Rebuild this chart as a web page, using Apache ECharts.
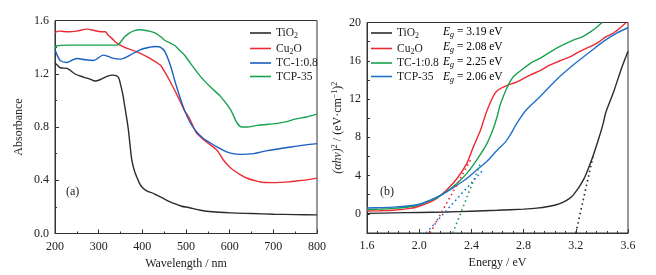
<!DOCTYPE html>
<html>
<head>
<meta charset="utf-8">
<script src="https://cdn.jsdelivr.net/npm/echarts@6/dist/echarts.min.js"></script>
<style>
html,body{margin:0;padding:0;background:#fff;}
#c{width:656px;height:275px;}
</style>
</head>
<body>
<div id="c"></div>
<script>
// ---------- Panel (a): absorbance vs wavelength ----------
var tio2A = [[200,1.28],[205,1.265],[212,1.245],[228,1.24],[245,1.2],[265,1.175],[280,1.16],[292,1.145],[303,1.155],[319,1.18],[333,1.19],[345,1.175],[350,1.12],[355,1.05],[358,0.99],[361,0.93],[365,0.85],[368,0.78],[372,0.66],[376,0.55],[382,0.47],[387,0.426],[393,0.38],[399,0.35],[410,0.32],[426,0.30],[450,0.26],[472,0.226],[490,0.205],[506,0.195],[533,0.175],[560,0.163],[602,0.155],[650,0.15],[701,0.145],[750,0.142],[800,0.14]];
var cu2oA = [[200,1.51],[210,1.52],[230,1.515],[250,1.52],[273,1.535],[290,1.525],[305,1.515],[315,1.515],[322,1.49],[332,1.46],[342,1.43],[355,1.405],[365,1.39],[388,1.365],[418,1.315],[441,1.265],[452,1.21],[464,1.14],[475,1.07],[487,0.99],[497,0.92],[506,0.877],[517,0.80],[525,0.75],[548,0.685],[571,0.626],[586,0.55],[600,0.5],[609,0.475],[625,0.44],[640,0.415],[660,0.395],[680,0.383],[700,0.382],[716,0.384],[735,0.388],[755,0.395],[780,0.405],[800,0.416]];
var tcA = [[200,1.38],[205,1.34],[212,1.30],[227,1.285],[250,1.315],[270,1.305],[288,1.30],[311,1.34],[322,1.33],[334,1.315],[349,1.31],[360,1.32],[372,1.34],[395,1.38],[418,1.40],[430,1.405],[441,1.40],[452,1.365],[464,1.265],[475,1.14],[487,1.015],[498,0.914],[510,0.83],[525,0.76],[540,0.714],[556,0.68],[571,0.651],[586,0.625],[602,0.604],[625,0.594],[655,0.60],[686,0.623],[710,0.635],[732,0.646],[770,0.664],[800,0.675]];
var tcpA = [[200,1.39],[204,1.41],[230,1.415],[260,1.415],[300,1.415],[342,1.415],[353,1.45],[360,1.48],[368,1.50],[380,1.522],[395,1.53],[418,1.518],[433,1.50],[445,1.47],[452,1.45],[464,1.43],[475,1.41],[487,1.37],[494,1.35],[510,1.28],[533,1.18],[556,1.10],[579,1.03],[602,0.93],[617,0.83],[628,0.80],[640,0.80],[663,0.812],[709,0.827],[730,0.84],[747,0.857],[775,0.875],[800,0.897]];

// ---------- Panel (b): Tauc plot ----------
var tio2B = [[1.6,0.05],[1.8,0.1],[2.0,0.15],[2.2,0.2],[2.4,0.28],[2.6,0.38],[2.8,0.5],[2.9,0.6],[3.0,0.8],[3.05,0.95],[3.10,1.2],[3.15,1.6],[3.18,1.96],[3.21,2.5],[3.23,2.9],[3.26,3.6],[3.28,4.2],[3.33,5.97],[3.38,8.06],[3.41,9.46],[3.43,10.6],[3.49,12.76],[3.55,15.2],[3.60,17.0]];
var cu2oB = [[1.6,0.3],[1.7,0.33],[1.8,0.38],[1.93,0.57],[2.0,0.8],[2.06,1.1],[2.135,1.62],[2.21,2.49],[2.29,3.7],[2.365,5.28],[2.415,7.0],[2.47,8.76],[2.49,9.6],[2.52,10.8],[2.55,11.8],[2.58,12.6],[2.61,13.0],[2.67,13.4],[2.75,13.8],[2.85,14.5],[2.93,15.0],[3.0,15.55],[3.08,16.0],[3.155,16.4],[3.22,16.9],[3.28,17.3],[3.33,17.6],[3.38,18.0],[3.43,18.5],[3.49,18.9],[3.55,19.55],[3.585,20.0]];
var tcB = [[1.6,0.45],[1.7,0.5],[1.8,0.57],[1.93,0.74],[2.0,0.95],[2.06,1.26],[2.135,1.68],[2.21,2.31],[2.29,3.19],[2.365,4.23],[2.44,5.62],[2.52,7.37],[2.57,9.0],[2.6,10.3],[2.62,11.37],[2.67,13.1],[2.72,14.3],[2.80,15.2],[2.86,15.8],[2.925,16.25],[3.05,17.3],[3.18,18.16],[3.25,18.5],[3.31,19.0],[3.36,19.5],[3.40,20.0]];
var tcpB = [[1.6,0.62],[1.7,0.65],[1.8,0.7],[1.93,0.85],[2.0,1.0],[2.06,1.3],[2.135,1.75],[2.21,2.3],[2.29,3.0],[2.365,3.7],[2.44,4.58],[2.52,5.5],[2.56,6.1],[2.61,6.84],[2.66,7.5],[2.70,8.3],[2.75,9.5],[2.82,10.85],[2.925,12.24],[3.05,14.0],[3.18,15.55],[3.31,16.94],[3.41,18.0],[3.51,18.86],[3.6,19.45]];
// tangent (extrapolation) lines
var tanTiO2 = [[3.20,-2],[3.335,6.2]];
var tanCu2O = [[2.084,-2],[2.40,5.8]];
var tanTC = [[2.257,-2],[2.47,5.3]];
var tanTCP = [[2.053,-2],[2.49,4.6]];

var seriesNames = ['TiO2','Cu2O','TC-1:0.8','TCP-35'];
var egLabels = ['3.19','2.08','2.25','2.06'];
var xTicksA = [200,300,400,500,600,700,800];
var yTicksA = [0.0,0.4,0.8,1.2,1.6];
var xTicksB = [1.6,2.0,2.4,2.8,3.2,3.6];
var yTicksB = [0,4,8,12,16,20];

var FONT = '"Liberation Serif", "DejaVu Serif", serif';
var TXT = '#222';
var cBlack = '#2b2b2b', cRed = '#ec2a33', cBlue = '#1a5fc0', cGreen = '#1aa150';
var cGreenB = '#19a34c', cBlueB = '#1f72cc';

var richNames = {
  'TiO2': '{n|TiO}{s|2}',
  'Cu2O': '{n|Cu}{s|2}{n|O}',
  'TC-1:0.8': '{n|TC-1:0.8}',
  'TCP-35': '{n|TCP-35}'
};
var rich = {
  n: {fontFamily: FONT, fontSize: 11.5, color: TXT, lineHeight: 14},
  s: {fontFamily: FONT, fontSize: 8, color: TXT, verticalAlign: 'bottom', lineHeight: 14, padding: [6,0,0,0]}
};

function axisCommon(extra){
  var o = {
    axisLine: {show: true, onZero: false, lineStyle: {color: '#333', width: 1}},
    axisTick: {show: true, inside: true, length: 4, lineStyle: {color: '#333'}},
    minorTick: {show: true, splitNumber: 2, length: 2, lineStyle: {color: '#333'}},
    splitLine: {show: false},
    axisLabel: {fontFamily: FONT, fontSize: 12, color: TXT},
    nameTextStyle: {fontFamily: FONT, fontSize: 12, color: TXT}
  };
  for (var k in extra) o[k] = extra[k];
  return o;
}

function line(name, data, color, xi, dotted){
  return {
    name: name, type: 'line', data: data, xAxisIndex: xi, yAxisIndex: xi,
    symbol: 'none', showSymbol: false, smooth: dotted ? false : 0.3, silent: true, animation: false,
    clip: true,
    lineStyle: {color: color, width: dotted ? 1.6 : 1.4, type: dotted ? [1.6, 3.2] : 'solid'},
    itemStyle: {color: color}
  };
}

function legendOf(left, prefix){
  return {orient: 'vertical', left: left, top: 21, icon: 'rect', itemWidth: 21, itemHeight: 1.6, itemGap: 1.5,
    data: [prefix + '0', prefix + '1', prefix + '2', prefix + '3'],
    formatter: function(n){ return richNames[seriesNames[+n.slice(1)]]; },
    itemStyle: {borderWidth: 0},
    textStyle: {rich: rich}};
}

var chart = echarts.init(document.getElementById('c'), null, {renderer: 'canvas'});
var option = {
  backgroundColor: '#fff',
  animation: false,
  grid: [
    {left: 55, top: 20.5, width: 262, height: 213, show: true, borderColor: '#333', borderWidth: 1, backgroundColor: 'transparent'},
    {left: 367, top: 22.5, width: 261, height: 210.5, show: true, borderColor: '#333', borderWidth: 1, backgroundColor: 'transparent'}
  ],
  xAxis: [
    axisCommon({gridIndex: 0, type: 'value', min: 200, max: 800, interval: 100,
      name: 'Wavelength / nm', nameLocation: 'middle', nameGap: 20,
      axisLabel: {fontFamily: FONT, fontSize: 12, color: TXT, margin: 7, customValues: xTicksA}}),
    axisCommon({gridIndex: 1, type: 'value', min: 1.6, max: 3.6, interval: 0.4,
      name: 'Energy / eV', nameLocation: 'middle', nameGap: 20,
      minorTick: {show: true, splitNumber: 5, length: 2, lineStyle: {color: '#333'}},
      axisLabel: {fontFamily: FONT, fontSize: 12, color: TXT, margin: 7, customValues: xTicksB,
        formatter: function(v){ return v.toFixed(1); }}})
  ],
  yAxis: [
    axisCommon({gridIndex: 0, type: 'value', min: 0, max: 1.6, interval: 0.4,
      name: 'Absorbance', nameLocation: 'middle', nameGap: 30,
      axisLabel: {fontFamily: FONT, fontSize: 12, color: TXT, margin: 6, customValues: yTicksA,
        formatter: function(v){ return v.toFixed(1); }}}),
    axisCommon({gridIndex: 1, type: 'value', min: -2, max: 20, interval: 2,
      name: '{i|(αhν)}{p|2}{n| / (eV·cm}{p|−1}{n|)}{p|2}', nameLocation: 'middle', nameGap: 22,
      minorTick: {show: false},
      axisTick: {show: true, inside: true, length: 3, lineStyle: {color: '#333'}},
      nameTextStyle: {fontFamily: FONT, fontSize: 12, color: TXT,
        rich: {
          i: {fontFamily: FONT, fontSize: 12, fontStyle: 'italic', color: TXT, lineHeight: 14},
          n: {fontFamily: FONT, fontSize: 12, color: TXT, lineHeight: 14},
          p: {fontFamily: FONT, fontSize: 8, color: TXT, verticalAlign: 'top', lineHeight: 14, padding: [0,0,6,0]}
        }},
      axisLabel: {fontFamily: FONT, fontSize: 12, color: TXT, margin: 6, customValues: yTicksB}})
  ],
  legend: [legendOf(245, 'a'), legendOf(366, 'b')],
  graphic: [
    {type: 'text', left: 66, top: 186, style: {text: '(a)', font: '12px ' + FONT, fill: TXT}},
    {type: 'text', left: 380, top: 186, style: {text: '(b)', font: '12px ' + FONT, fill: TXT}}
  ],
  series: [
    line('a0', tio2A, cBlack, 0), line('a1', cu2oA, cRed, 0), line('a2', tcA, cBlue, 0), line('a3', tcpA, cGreen, 0),
    line('b0', tio2B, cBlack, 1), line('b1', cu2oB, cRed, 1), line('b2', tcB, cGreenB, 1), line('b3', tcpB, cBlueB, 1),
    line('t0', tanTiO2, cBlack, 1, true), line('t1', tanCu2O, cRed, 1, true), line('t2', tanTC, cGreenB, 1, true), line('t3', tanTCP, cBlueB, 1, true)
  ]
};
// Eg column texts
var egY = [31.5, 47, 62, 77];
for (var i = 0; i < egLabels.length; i++) {
  option.graphic.push({
    type: 'text', x: 443, y: egY[i],
    style: {
      text: '{e|E}{g|g}{t| = ' + egLabels[i] + ' eV}',
      verticalAlign: 'middle',
      rich: {
        e: {fontFamily: FONT, fontSize: 11.5, fontStyle: 'italic', color: TXT, lineHeight: 14},
        g: {fontFamily: FONT, fontSize: 8, fontStyle: 'italic', color: TXT, verticalAlign: 'bottom', lineHeight: 14, padding: [6,0,0,0]},
        t: {fontFamily: FONT, fontSize: 11.5, color: TXT, lineHeight: 14}
      }
    }
  });
}
chart.setOption(option);
</script>
</body>
</html>
